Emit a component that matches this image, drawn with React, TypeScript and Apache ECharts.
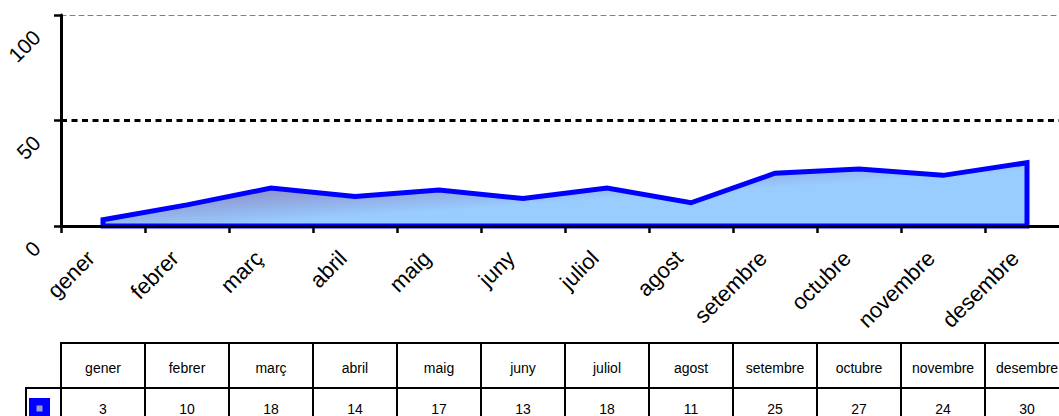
import React, { useEffect, useRef } from "react";
import * as echarts from "echarts";

const categories = ["gener", "febrer", "març", "abril", "maig", "juny", "juliol", "agost", "setembre", "octubre", "novembre", "desembre"];
const values = [3, 10, 18, 14, 17, 13, 18, 11, 25, 27, 24, 30];
const yMin = 0;
const yMax = 100;
const yInterval = 50;

const FONT = '"Liberation Sans", Arial, sans-serif';

export default function App() {
  const ref = useRef<HTMLDivElement>(null);

  useEffect(() => {
    document.body.style.margin = "0";
    if (!ref.current) return;
    const chart = echarts.init(ref.current, null, { renderer: "svg" });

    const fill = new echarts.graphic.LinearGradient(0, 0, 1, 1, [
      { offset: 0, color: "#8078b8" },
      { offset: 0.27, color: "#8f8cc8" },
      { offset: 0.45, color: "#93b4ea" },
      { offset: 0.56, color: "#99ccff" },
      { offset: 1, color: "#99ccff" },
    ]);

    const option: any = {
      animation: false,
      backgroundColor: "#ffffff",
      grid: { left: 61, top: 15, width: 1008, height: 211, containLabel: false, outerBoundsMode: "none" },
      xAxis: [
        {
          type: "category",
          data: categories,
          boundaryGap: true,
          z: 5,
          axisLine: { lineStyle: { color: "#000", width: 3 } },
          axisTick: { show: true, length: 7, lineStyle: { color: "#000", width: 2.5 } },
          axisLabel: {
            interval: 0,
            rotate: 45,
            align: "right",
            verticalAlign: "bottom",
            padding: [0, 6, 0, 0],
            margin: 32,
            fontSize: 22,
            fontFamily: FONT,
            color: "#000",
          },
          splitLine: { show: false },
        },
        {
          type: "category",
          data: categories,
          position: "top",
          axisLine: { show: true, lineStyle: { color: "#808080", width: 1, type: [5, 4] } },
          axisTick: { show: false },
          axisLabel: { show: false },
        },
      ],
      yAxis: {
        type: "value",
        min: yMin,
        max: yMax,
        interval: yInterval,
        z: 5,
        axisLine: { show: true, lineStyle: { color: "#000", width: 3 } },
        axisTick: { show: true, length: 7, lineStyle: { color: "#000", width: 2.5 } },
        axisLabel: {
          rotate: 45,
          align: "right",
          verticalAlign: "top",
          padding: [16, 0, 0, 0],
          margin: 43,
          fontSize: 21,
          fontFamily: FONT,
          color: "#000",
        },
        splitLine: {
          show: true,
          lineStyle: { color: ["transparent", "#000", "transparent"], width: 3, type: [6, 4.5] },
        },
      },
      series: [
        {
          type: "custom",
          data: values.map((v, i) => [categories[i], v]),
          clip: false,
          z: 2,
          renderItem: (params: any, api: any) => {
            if (params.dataIndexInside !== 0) return null;
            const n = values.length;
            const pts: number[][] = [];
            for (let i = 0; i < n; i++) {
              pts.push(api.coord([api.value(0, i), api.value(1, i)]));
            }
            const br = api.coord([api.value(0, n - 1), 0]);
            const bl = api.coord([api.value(0, 0), 0]);
            return {
              type: "polygon",
              shape: { points: [...pts, br, bl] },
              style: { fill, stroke: "#0000ff", lineWidth: 5, lineJoin: "miter" },
            };
          },
        },
      ],
    };

    chart.setOption(option);

    const centers = categories.map((c) => chart.convertToPixel({ xAxisIndex: 0 }, c) as number);
    const bw = centers[1] - centers[0];
    const tableTop = 343;
    const rowH = 45;
    const legendW = 35;
    const g: any[] = [];
    const border = { fill: "none", stroke: "#000", lineWidth: 2 };
    centers.forEach((cx, i) => {
      g.push({ type: "rect", shape: { x: cx - bw / 2, y: tableTop, width: bw, height: rowH }, style: border });
      g.push({ type: "rect", shape: { x: cx - bw / 2, y: tableTop + rowH, width: bw, height: rowH }, style: border });
      g.push({
        type: "text",
        x: cx,
        y: tableTop + 25,
        style: { text: categories[i], font: `14px ${FONT}`, fill: "#000", align: "center", verticalAlign: "middle", textAlign: "center", textVerticalAlign: "middle" },
      });
      g.push({
        type: "text",
        x: cx,
        y: tableTop + rowH + 21,
        style: { text: String(values[i]), font: `14px ${FONT}`, fill: "#000", align: "center", verticalAlign: "middle", textAlign: "center", textVerticalAlign: "middle" },
      });
    });
    const lx = centers[0] - bw / 2 - legendW;
    g.push({ type: "rect", shape: { x: lx, y: tableTop + rowH, width: legendW, height: rowH }, style: border });
    g.push({ type: "rect", shape: { x: lx + 3, y: tableTop + rowH + 10, width: 21, height: 21 }, style: { fill: "#0000ff" } });
    g.push({ type: "rect", shape: { x: lx + 10.5, y: tableTop + rowH + 17.5, width: 6, height: 6 }, style: { fill: "#9a9ad8" } });

    chart.setOption({ graphic: g });

    return () => chart.dispose();
  }, []);

  return <div ref={ref} style={{ width: 1059, height: 416 }} />;
}
